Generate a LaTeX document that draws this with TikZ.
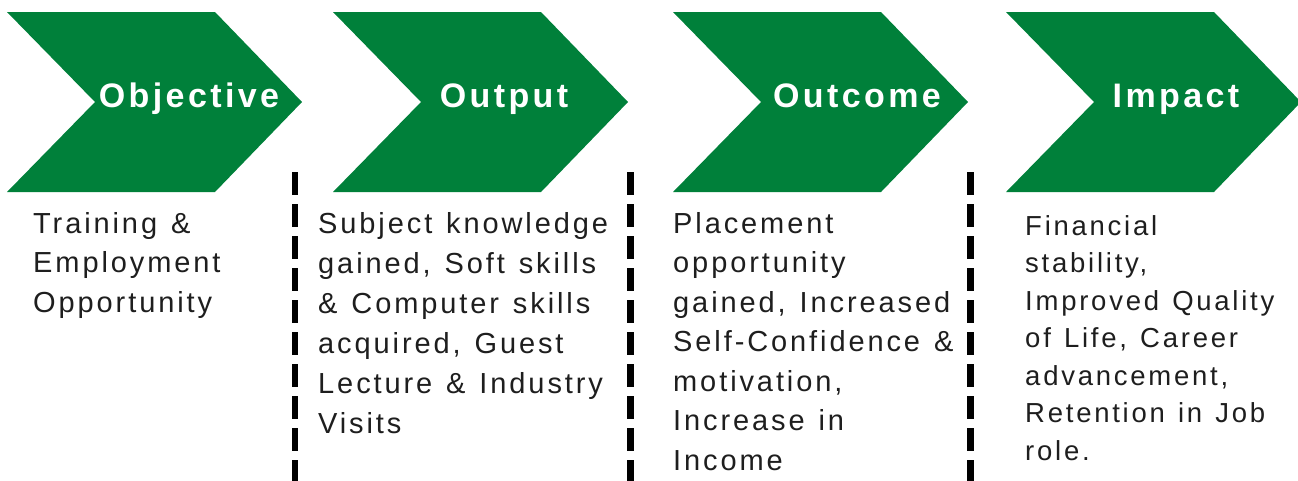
\documentclass[tikz,border=0pt]{standalone}
\usepackage{fontspec}
\setmainfont{Liberation Sans}[LetterSpace=10]
\newfontfamily\titlefont{Liberation Sans}[LetterSpace=10]
\newcommand\widesp{\spaceskip=0.48em\relax\xspaceskip=0.48em\relax}
\definecolor{chevgreen}{RGB}{0,128,58}
\definecolor{bodytext}{RGB}{30,30,30}
\tikzset{
  chevron/.style={fill=chevgreen, draw=none},
  chevtitle/.style={anchor=base, inner sep=0pt, text=white,
    font=\titlefont\bfseries\fontsize{34}{40}\selectfont},
  bodycol/.style={anchor=base west, inner sep=0pt, text width=300pt, align=left,
    text=bodytext},
  divider/.style={line width=6.5pt, black, dash pattern=on 22.5pt off 9.5pt}
}
\begin{document}
\begin{tikzpicture}[x=1pt,y=-1pt]
\useasboundingbox (0,0) rectangle (1298,480);
% chevrons
\foreach \L in {7,333,673,1006}{
  \fill[chevron] (\L,12) -- (\L+208,12) -- (\L+295,102) -- (\L+208,192) -- (\L,192) -- (\L+88,102) -- cycle;
}
% titles
\node[chevtitle] (t1) at (189,107) {Objective};
\node[chevtitle] (t2) at (504,107) {Output};
\node[chevtitle] (t3) at (857,107) {Outcome};
\node[chevtitle] (t4) at (1176,107) {Impact};
% dividers
\coordinate (d1t) at (295,172); \coordinate (d1b) at (295,482);
\coordinate (d2t) at (630.5,172); \coordinate (d2b) at (630.5,482);
\coordinate (d3t) at (970.5,172); \coordinate (d3b) at (970.5,482);
\draw[divider] (d1t) -- (d1b);
\draw[divider] (d2t) -- (d2b);
\draw[divider] (d3t) -- (d3b);
% body texts
\node[bodycol, font=\fontsize{29}{39.5}\selectfont] (b1) at (33,233)
  {\widesp Training \&\\Employment\\Opportunity};
\node[bodycol, font=\fontsize{29}{40}\selectfont] (b2) at (318,233)
  {\widesp Subject knowledge\\gained, Soft skills\\\& Computer skills\\acquired, Guest\\Lecture \& Industry\\Visits};
\node[bodycol, font=\fontsize{29}{39.5}\selectfont] (b3) at (673,233)
  {\widesp Placement\\opportunity\\gained, Increased\\Self-Confidence \&\\motivation,\\Increase in\\Income};
\node[bodycol, font=\fontsize{27.5}{37.5}\selectfont] (b4) at (1025,235)
  {\widesp Financial\\stability,\\Improved Quality\\of Life, Career\\advancement,\\Retention in Job\\role.};
\end{tikzpicture}
\end{document}
